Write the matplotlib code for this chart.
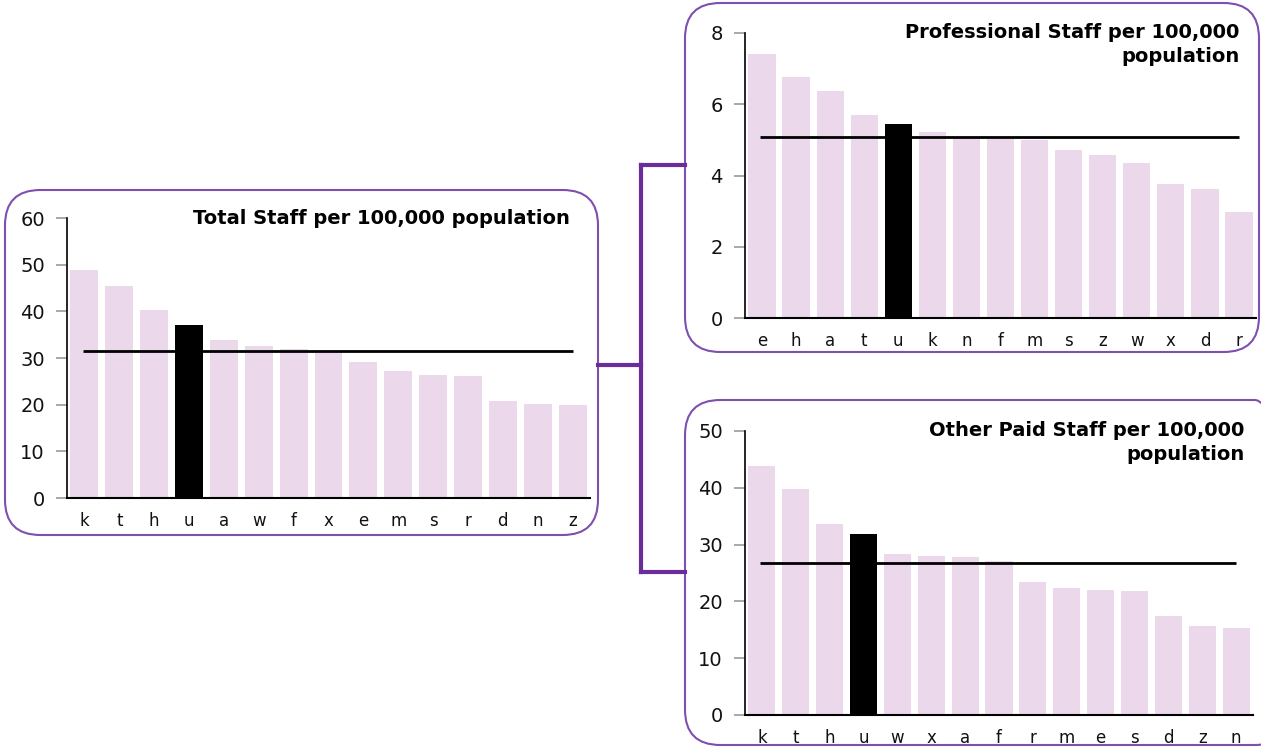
import matplotlib.pyplot as plt
from matplotlib.patches import FancyBboxPatch
from matplotlib.lines import Line2D

# Total staff
total_cats = ['k', 't', 'h', 'u', 'a', 'w', 'f', 'x', 'e', 'm', 's', 'r', 'd', 'n', 'z']
total_vals = [48.9, 45.4, 40.3, 37.1, 33.9, 32.6, 31.9, 31.3, 29.1, 27.2, 26.4, 26.1, 20.8, 20.1, 19.9]
total_avg = 31.5

# Professional staff
prof_cats = ['e', 'h', 'a', 't', 'u', 'k', 'n', 'f', 'm', 's', 'z', 'w', 'x', 'd', 'r']
prof_vals = [7.42, 6.77, 6.37, 5.70, 5.44, 5.21, 5.05, 5.02, 5.0, 4.72, 4.57, 4.35, 3.77, 3.62, 2.97]
prof_avg = 5.07

# Other paid staff
other_cats = ['k', 't', 'h', 'u', 'w', 'x', 'a', 'f', 'r', 'm', 'e', 's', 'd', 'z', 'n']
other_vals = [43.8, 39.8, 33.6, 31.8, 28.3, 28.0, 27.8, 27.1, 23.4, 22.4, 22.0, 21.8, 17.5, 15.7, 15.4]
other_avg = 26.7

highlight = 'u'
bar_color = '#ebd9eb'
box_color = '#7f4fae'
line_color = '#6a2d9a'

W, H = 1261, 749
fig = plt.figure(figsize=(W / 100, H / 100), dpi=100)


def px_axes(x0, x1, ytop, ybot):
    ax = fig.add_axes([x0 / W, (H - ybot) / H, (x1 - x0) / W, (ybot - ytop) / H])
    ax.set_zorder(2)
    return ax


def px_box(x0, y0, x1, y1):
    p = FancyBboxPatch((x0 / W, (H - y1) / H), (x1 - x0) / W, (y1 - y0) / H,
                       boxstyle="round,pad=0,rounding_size=0.028",
                       transform=fig.transFigure, facecolor='none',
                       edgecolor=box_color, linewidth=1.5, zorder=0,
                       mutation_aspect=W / H)
    fig.patches.append(p)


def panel(ax, cats, vals, avg, ymax, ystep, title):
    x = range(len(cats))
    colors = ['black' if c == highlight else bar_color for c in cats]
    ax.bar(x, vals, width=0.8, color=colors, zorder=2)
    ax.hlines(avg, -0.05, len(cats) - 1, color='black', linewidth=2, zorder=3)
    ax.set_xlim(-0.5, len(cats) - 0.5)
    ax.set_ylim(0, ymax)
    ax.set_yticks(range(0, ymax + 1, ystep))
    ax.set_xticks(list(x))
    ax.set_xticklabels(cats)
    ax.patch.set_alpha(0)
    for s in ['top', 'right']:
        ax.spines[s].set_visible(False)
    ax.spines['left'].set_linewidth(1.2)
    ax.spines['bottom'].set_linewidth(1.5)
    ax.tick_params(axis='y', length=8, width=1.2, color='#999999', labelsize=14,
                   pad=8, labelcolor='#111111')
    ax.tick_params(axis='x', length=0, labelsize=12, pad=10, labelcolor='#111111')
    ax.text(0.96, 1.0, title, transform=ax.transAxes, ha='right', va='center',
            fontsize=14, fontweight='bold', linespacing=1.3)


# boxes
px_box(5, 190, 598, 535)
px_box(685, 3, 1259, 352)
px_box(685, 400, 1290, 745)

# connectors
fig.lines.append(Line2D([598 / W, 641 / W], [1 - 365 / H, 1 - 365 / H], transform=fig.transFigure,
                        color=line_color, linewidth=3))
fig.lines.append(Line2D([641 / W, 641 / W], [1 - 165 / H, 1 - 572 / H], transform=fig.transFigure,
                        color=line_color, linewidth=3))
fig.lines.append(Line2D([641 / W, 685 / W], [1 - 165 / H, 1 - 165 / H], transform=fig.transFigure,
                        color=line_color, linewidth=3))
fig.lines.append(Line2D([641 / W, 685 / W], [1 - 572 / H, 1 - 572 / H], transform=fig.transFigure,
                        color=line_color, linewidth=3))

ax1 = px_axes(67, 590, 218, 498)
panel(ax1, total_cats, total_vals, total_avg, 60, 10, 'Total Staff per 100,000 population')
ax1.texts[0].set_position((0.961, 1.0))

ax2 = px_axes(745, 1256, 33, 318)
panel(ax2, prof_cats, prof_vals, prof_avg, 8, 2, 'Professional Staff per 100,000\npopulation')
ax2.texts[0].set_position((0.967, 0.96))

ax3 = px_axes(745, 1253, 431, 715)
panel(ax3, other_cats, other_vals, other_avg, 50, 10, 'Other Paid Staff per 100,000\npopulation')
ax3.texts[0].set_position((0.984, 0.96))

fig.savefig('out.png', dpi=100)
